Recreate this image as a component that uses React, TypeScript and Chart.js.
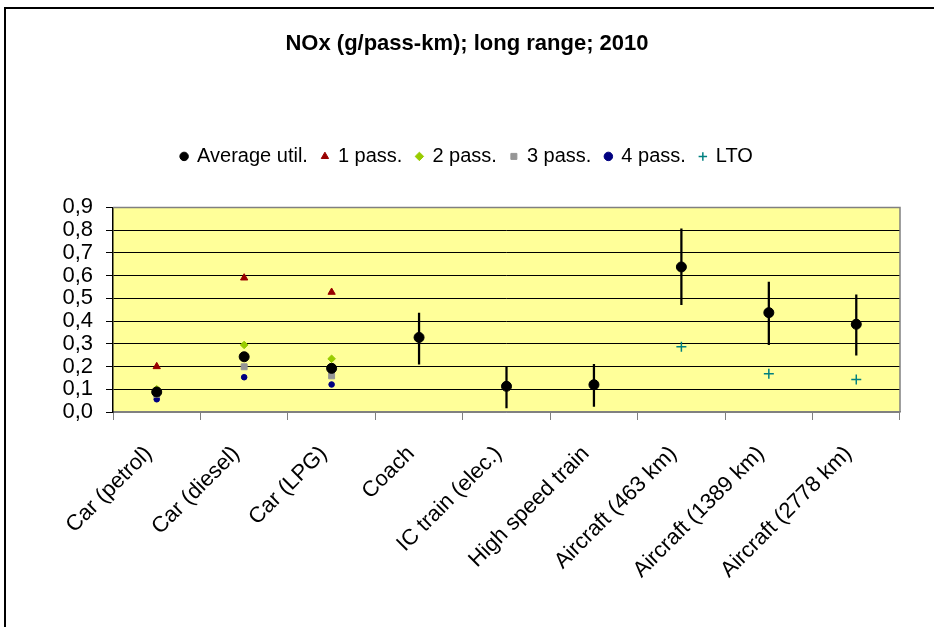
import React, { useEffect, useRef } from "react";
import { Chart, registerables } from "chart.js";

Chart.register(...registerables);

const categories = [
  "Car (petrol)",
  "Car (diesel)",
  "Car (LPG)",
  "Coach",
  "IC train (elec.)",
  "High speed train",
  "Aircraft (463 km)",
  "Aircraft (1389 km)",
  "Aircraft (2778 km)",
];
const averageUtil = [0.088, 0.243, 0.192, 0.328, 0.113, 0.12, 0.638, 0.437, 0.386];
const pass1 = [0.2, 0.59, 0.527, null, null, null, null, null, null];
const pass2 = [0.1, 0.295, 0.234, null, null, null, null, null, null];
const pass3 = [0.077, 0.199, 0.159, null, null, null, null, null, null];
const pass4 = [0.056, 0.153, 0.121, null, null, null, null, null, null];
const lto = [null, null, null, null, null, null, 0.287, 0.168, 0.143];
const errLow = [null, null, null, 0.21, 0.018, 0.024, 0.472, 0.296, 0.25];
const errHigh = [null, null, null, 0.435, 0.201, 0.21, 0.806, 0.572, 0.515];
const yTicks = [0, 0.1, 0.2, 0.3, 0.4, 0.5, 0.6, 0.7, 0.8, 0.9];
const titleText = "NOx (g/pass-km); long range; 2010";

const FONT = "'Liberation Sans', Arial, sans-serif";

const bgPlugin = {
  id: "bgPlugin",
  beforeDraw(chart: any) {
    const { ctx, chartArea } = chart;
    ctx.save();
    ctx.fillStyle = "#FFFF99";
    ctx.fillRect(chartArea.left, chartArea.top, chartArea.right - chartArea.left, chartArea.bottom - chartArea.top);
    ctx.restore();
  },
  beforeDatasetsDraw(chart: any) {
    const { ctx, chartArea } = chart;
    ctx.save();
    ctx.strokeStyle = "#808080";
    ctx.lineWidth = 1.5;
    ctx.beginPath();
    ctx.moveTo(chartArea.left, chartArea.top);
    ctx.lineTo(chartArea.right, chartArea.top);
    ctx.lineTo(chartArea.right, chartArea.bottom);
    ctx.stroke();
    ctx.restore();
  },
  afterDraw(chart: any) {
    const { ctx } = chart;
    ctx.save();
    ctx.strokeStyle = "#000";
    ctx.lineWidth = 2;
    ctx.beginPath();
    ctx.moveTo(5, 627);
    ctx.lineTo(5, 8);
    ctx.lineTo(934, 8);
    ctx.stroke();
    ctx.restore();
  },
};

export default function App() {
  const ref = useRef<HTMLCanvasElement>(null);
  useEffect(() => {
    if (!ref.current) return;
    const pointDs = (label: string, data: any[], style: string, color: string, radius: number, extra: any = {}) => ({
      type: "line" as const,
      label,
      data,
      showLine: false,
      pointStyle: style,
      pointRadius: radius,
      pointBackgroundColor: color,
      pointBorderColor: color,
      backgroundColor: color,
      borderColor: color,
      borderWidth: 1,
      ...extra,
    });
    const chart = new Chart(ref.current, {
      type: "bar",
      data: {
        labels: categories,
        datasets: [
          pointDs("Average util.", averageUtil, "circle", "#000000", 5),
          pointDs("1 pass.", pass1, "triangle", "#990000", 4.2),
          pointDs("2 pass.", pass2, "rectRot", "#99CC00", 3.8),
          pointDs("3 pass.", pass3, "rect", "#969696", 4.2),
          pointDs("4 pass.", pass4, "circle", "#000080", 2.8),
          pointDs("LTO", lto, "cross", "#008080", 5, { borderWidth: 1.5, pointBorderWidth: 1.5 }),
          {
            type: "bar" as const,
            label: "err",
            data: errLow.map((lo, i) => (lo === null || errHigh[i] === null ? null : [lo, errHigh[i]])) as any,
            backgroundColor: "#000000",
            barThickness: 1.6,
            grouped: false,
          } as any,
        ],
      },
      options: {
        animation: false,
        responsive: false,
        layout: { padding: { left: 0, right: 0, top: 0, bottom: 0 } },
        plugins: {
          tooltip: { enabled: false },
          title: {
            display: true,
            text: titleText,
            color: "#000",
            font: { family: FONT, size: 22, weight: "bold" },
            padding: { top: 31, bottom: 75 },
          },
          legend: {
            display: true,
            position: "top",
            labels: {
              color: "#000",
              font: { family: FONT, size: 20 },
              usePointStyle: true,
              boxWidth: 6,
              boxHeight: 6,
              padding: 14,
              filter: (item: any) => item.datasetIndex < 6,
            },
          },
        },
        scales: {
          x: {
            type: "category",
            offset: true,
            grid: {
              display: true,
              offset: true,
              drawOnChartArea: false,
              drawTicks: true,
              tickLength: 8,
              color: "#808080",
            },
            border: { display: true, color: "#808080", width: 1.5 },
            ticks: {
              color: "#000",
              font: { family: FONT, size: 22 },
              maxRotation: 45,
              minRotation: 45,
              padding: 21,
              labelOffset: -8,
              autoSkip: false,
            },
            afterFit: (s: any) => {
              s.height = 215;
            },
          },
          xTop: {
            type: "category",
            position: "top",
            display: true,
            grid: { display: false },
            ticks: { display: false },
            border: { display: false },
            afterFit: (s: any) => {
              s.height = 31;
            },
          },
          y: {
            type: "linear",
            min: 0,
            max: 0.9,
            afterBuildTicks: (s: any) => {
              s.ticks = yTicks.map((v) => ({ value: v }));
            },
            grid: {
              color: (c: any) =>
                c.tick && (Math.abs(c.tick.value - 0.9) < 1e-6 || Math.abs(c.tick.value) < 1e-6) ? "#808080" : "#000000",
              lineWidth: 1,
              tickLength: 7,
              tickColor: "#000",
            },
            border: { display: true, color: "#000", width: 1.5 },
            ticks: {
              color: "#000",
              font: { family: FONT, size: 22 },
              padding: 13,
              autoSkip: false,
              callback: (v: any) => Number(v).toFixed(1).replace(".", ","),
            },
            afterFit: (s: any) => {
              s.width = 113;
            },
          },
          yRight: {
            type: "linear",
            position: "right",
            display: true,
            grid: { display: false },
            ticks: { display: false },
            border: { display: false },
            afterFit: (s: any) => {
              s.width = 34;
            },
          },
        },
      } as any,
      plugins: [bgPlugin],
    });
    return () => chart.destroy();
  }, []);
  return (
    <div style={{ position: "fixed", left: 0, top: 0, width: 934, height: 627, background: "#fff" }}>
      <canvas ref={ref} width={934} height={627} style={{ display: "block" }} />
    </div>
  );
}
